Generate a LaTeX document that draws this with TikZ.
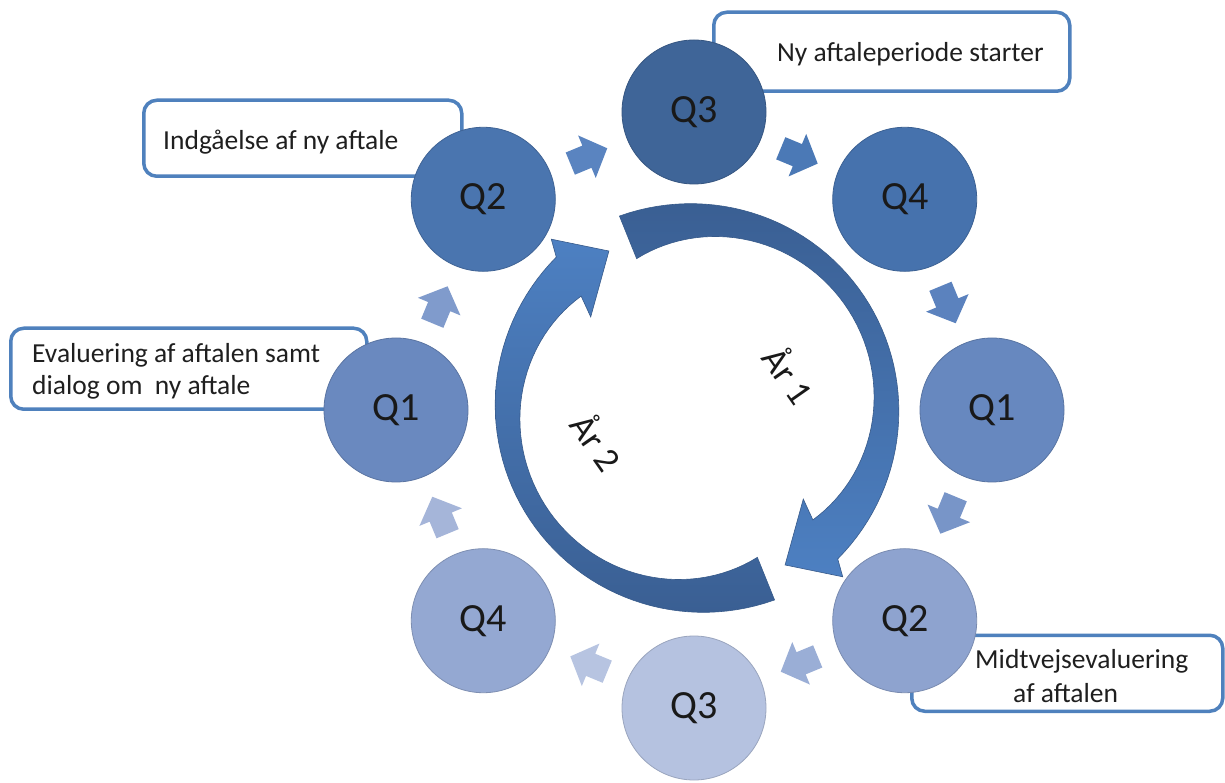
\documentclass[tikz,border=0pt]{standalone}
\usepackage{fontspec}
\setmainfont{Carlito}
\definecolor{boxblue}{HTML}{4F81BD}
\definecolor{cQa}{HTML}{3F6598}
\definecolor{cQb}{HTML}{4672AD}
\definecolor{cQc}{HTML}{6788BF}
\definecolor{cQd}{HTML}{8EA3CF}
\definecolor{cQe}{HTML}{B5C2E0}
\definecolor{cQf}{HTML}{94A8D2}
\definecolor{cQg}{HTML}{6A89BF}
\definecolor{cQh}{HTML}{4A75AF}
\definecolor{sA}{HTML}{5A84C0}
\definecolor{sB}{HTML}{4B79B6}
\definecolor{sC}{HTML}{5B82BE}
\definecolor{sD}{HTML}{7895C8}
\definecolor{sE}{HTML}{9AAED6}
\definecolor{sF}{HTML}{B7C4E1}
\definecolor{sG}{HTML}{A5B5D9}
\definecolor{sH}{HTML}{809BCC}
\definecolor{arcdark}{HTML}{3A5F93}
\definecolor{arclight}{HTML}{4D80C2}
\definecolor{arcedge}{HTML}{375A8A}
\begin{document}
\begin{tikzpicture}[x=1pt,y=1pt,
  qc/.style={circle, minimum size=144pt, inner sep=0pt, draw=#1!85!black, line width=0.8pt, fill=#1,
             font=\fontsize{40}{40}\selectfont, text=black!90},
  lbox/.style={draw=boxblue, line width=3.5pt, rounded corners=13pt, fill=white, anchor=south west, inner sep=0pt},
  ltext/.style={anchor=base west, inner sep=0pt, font=\fontsize{27.5}{32}\selectfont, text=black!88},
  yr/.style={font=\fontsize{36}{36}\selectfont, rotate=-55, inner sep=0pt, text=black!90},
  smallarr/.style={fill=#1},
  declare function={aro(\t)=201+0.0009*(\t-30)*(\t-30); ari(\t)=180.4-0.00318*(\t-34)*(\t-34);}
]
\useasboundingbox (0,0) rectangle (1225,782);
\fill[white] (0,0) rectangle (1225,782);

% label boxes
\node[lbox, minimum width=356pt, minimum height=79pt] (b1) at (712,689) {};
\node[lbox, minimum width=318pt, minimum height=76pt] (b2) at (142,604) {};
\node[lbox, minimum width=356pt, minimum height=81pt] (b3) at (9,371) {};
\node[lbox, minimum width=311pt, minimum height=76pt] (b4) at (910,69) {};

\node[ltext] (t1) at (777,720) {Ny aftaleperiode starter};
\node[ltext] (t2) at (163,632) {Indgåelse af ny aftale};
\node[ltext] (t3a) at (32,419) {Evaluering af aftalen samt};
\node[ltext] (t3b) at (32,387) {dialog om\ \ ny aftale};
\node[ltext] (t4a) at (975,114) {Midtvejsevaluering};
\node[ltext] (t4b) at (1013,80) {af aftalen};

% quarter circles
\begin{scope}[shift={(694,372)}]
\node[qc=cQa] (q3a) at (90:298) {Q3};
\node[qc=cQb] (q4a) at (45:298) {Q4};
\node[qc=cQc] (q1a) at (0:298) {Q1};
\node[qc=cQd] (q2a) at (-45:298) {Q2};
\node[qc=cQe] (q3b) at (-90:298) {Q3};
\node[qc=cQf] (q4b) at (-135:298) {Q4};
\node[qc=cQg] (q1b) at (180:298) {Q1};
\node[qc=cQh] (q2b) at (135:298) {Q2};
% small block arrows
\foreach \a/\c in {112.5/sA, 67.5/sB, 22.5/sC, -22.5/sD, -67.5/sE, -112.5/sF, -157.5/sG, 157.5/sH}{
  \fill[smallarr=\c, shift={(\a:275)}, rotate=\a-90]
    (-20,-12) -- (-2,-12) -- (-2,-23) -- (20,0) -- (-2,23) -- (-2,12) -- (-20,12) -- cycle;
}
\end{scope}

% big circular arrows
\begin{scope}[shift={(697,374)}]
\shadedraw[top color=arcdark, bottom color=arclight, draw=arcedge, line width=0.6pt]
  plot[domain=112:-47, samples=60, variable=\t] ({aro(\t)*cos(\t)},{aro(\t)*sin(\t)})
  -- (-49.2:223) -- (-60.7:180) -- (-40.6:140)
  -- plot[domain=-44:112, samples=60, variable=\t] ({ari(\t)*cos(\t)},{ari(\t)*sin(\t)}) -- cycle;
\shadedraw[top color=arclight, bottom color=arcdark, draw=arcedge, line width=0.6pt]
  plot[domain=-68:-227, samples=60, variable=\t] ({aro(\t+180)*cos(\t)},{aro(\t+180)*sin(\t)})
  -- (130.8:223) -- (119.3:180) -- (139.4:140)
  -- plot[domain=-224:-68, samples=60, variable=\t] ({ari(\t+180)*cos(\t)},{ari(\t+180)*sin(\t)}) -- cycle;
\end{scope}

\node[yr] (yr1) at (790,408) {År 1};
\node[yr] (yr2) at (598,341) {År 2};
\end{tikzpicture}
\end{document}
